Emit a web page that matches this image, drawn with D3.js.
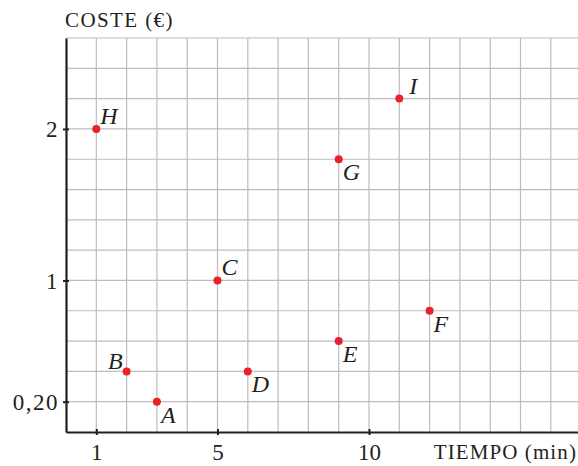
<!DOCTYPE html>
<html>
<head>
<meta charset="utf-8">
<script src="https://cdn.jsdelivr.net/npm/d3@7"></script>
<style>
  body { margin: 0; background: #fff; }
  text { font-family: "Liberation Serif", "DejaVu Serif", serif; fill: #231f20; }
</style>
</head>
<body>
<div id="chart"></div>
<script>
var width = 578;
var height = 466;

// point data
var names = ["A", "B", "C", "D", "E", "F", "G", "H", "I"];
var minutes = [3, 2, 5, 6, 9, 12, 9, 1, 11];
var costs = [0.2, 0.4, 1, 0.4, 0.6, 0.8, 1.8, 2, 2.2];
// where the letter goes round its point
var labelSide = ["se", "nw", "ne", "se", "se", "se", "se", "ne", "ne"];

var xTicks = [1, 5, 10];
var yTicks = [0.2, 1, 2];
var yTickLabels = ["0,20", "1", "2"];

var margin = { top: 38, left: 66, bottom: 34 };

var svg = d3.select("#chart")
  .append("svg")
  .attr("width", width)
  .attr("height", height);

var x = d3.scaleLinear()
  .domain([0, (width - margin.left) / 30.3])
  .range([margin.left, width]);

var y = d3.scaleLinear()
  .domain([0, 2.6])
  .range([height - margin.bottom, margin.top]);

// grid
var grid = svg.append("g").attr("class", "grid");
grid.selectAll("line.v")
  .data(d3.range(1, Math.floor(x.domain()[1]) + 1))
  .enter().append("line")
  .attr("x1", d => x(d)).attr("x2", d => x(d))
  .attr("y1", y(0)).attr("y2", y(2.6))
  .attr("stroke", "#bcbcbc").attr("stroke-width", 1.2);

grid.selectAll("line.h")
  .data(d3.range(1, 14).map(d => d * 0.2))
  .enter().append("line")
  .attr("x1", x(0)).attr("x2", width)
  .attr("y1", d => y(d)).attr("y2", d => y(d))
  .attr("stroke", "#bcbcbc").attr("stroke-width", 1.2);

// axes
var xAxis = d3.axisBottom(x)
  .tickValues(xTicks)
  .tickSizeInner(3)
  .tickSizeOuter(0)
  .tickPadding(9);

var yAxis = d3.axisLeft(y)
  .tickValues(yTicks)
  .tickFormat((d, i) => yTickLabels[i])
  .tickSizeInner(3)
  .tickSizeOuter(0)
  .tickPadding(7);

var gx = svg.append("g")
  .attr("transform", "translate(0," + y(0) + ")")
  .call(xAxis);
var gy = svg.append("g")
  .attr("transform", "translate(" + x(0) + ",0)")
  .call(yAxis);

[gx, gy].forEach(function (g) {
  g.select(".domain").attr("stroke", "#231f20").attr("stroke-width", 2.2);
  g.selectAll(".tick line").attr("stroke", "#231f20").attr("stroke-width", 2);
  g.selectAll(".tick text")
    .style("font-family", "Liberation Serif, serif")
    .style("font-size", "23px")
    .attr("fill", "#231f20");
});
gx.selectAll(".tick line").attr("y1", -3);
gy.selectAll(".tick line").attr("x1", 3);
// wider digits; the trailing spacing is taken back with dx
gy.selectAll(".tick text")
  .attr("dy", "0.34em")
  .attr("dx", 3)
  .style("letter-spacing", "1.5px");

// axis titles
svg.append("text")
  .attr("x", x(0) - 1)
  .attr("y", 27)
  .style("font-size", "21px")
  .style("letter-spacing", "1.4px")
  .text("COSTE (€)");

svg.append("text")
  .attr("x", width - 1)
  .attr("y", 459)
  .attr("text-anchor", "end")
  .style("font-size", "21px")
  .style("letter-spacing", "1.1px")
  .text("TIEMPO (min)");

// points
var pts = names.map(function (n, i) {
  return { name: n, t: minutes[i], c: costs[i], side: labelSide[i] };
});

svg.selectAll("circle.pt")
  .data(pts)
  .enter().append("circle")
  .attr("class", "pt")
  .attr("cx", d => x(d.t))
  .attr("cy", d => y(d.c))
  .attr("r", 4)
  .attr("fill", "#e8212b");

var offsets = { ne: [4, -5], se: [4, 21], nw: [-4, -2] };
svg.selectAll("text.lbl")
  .data(pts)
  .enter().append("text")
  .attr("class", "lbl")
  .attr("x", d => x(d.t) + offsets[d.side][0] + (d.name === "I" ? 6 : 0))
  .attr("y", d => y(d.c) + offsets[d.side][1])
  .attr("text-anchor", d => d.side === "nw" ? "end" : "start")
  .style("font-style", "italic")
  .style("font-size", "24px")
  .text(d => d.name);
</script>
</body>
</html>
